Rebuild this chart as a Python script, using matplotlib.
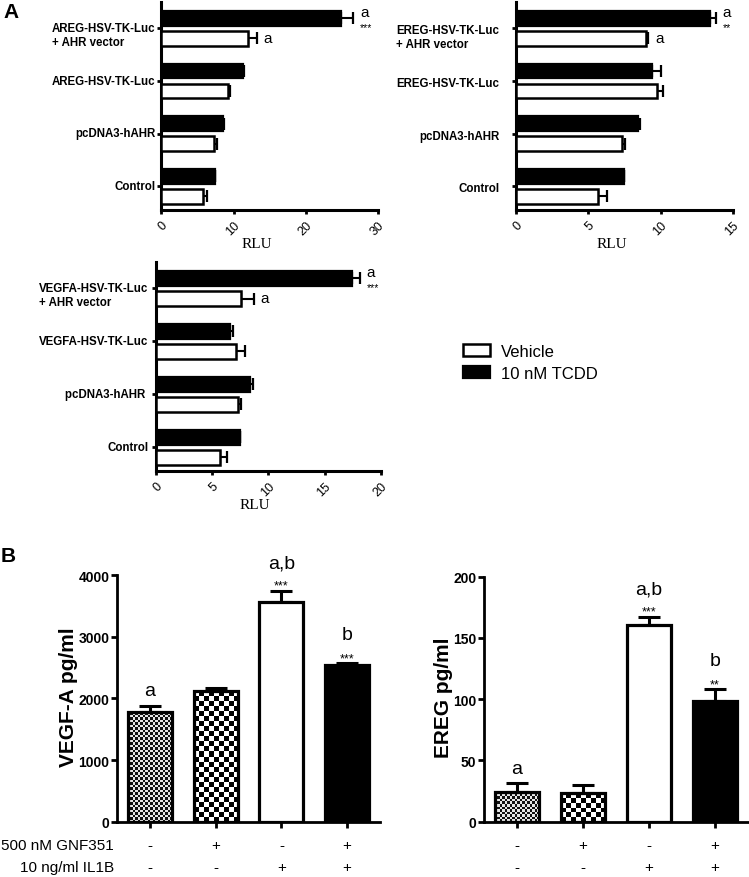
import numpy as np
import matplotlib
matplotlib.use("Agg")
import matplotlib.pyplot as plt
from matplotlib.colors import ListedColormap

# ---------- data ----------
areg_cats = ["Control", "pcDNA3-hAHR", "AREG-HSV-TK-Luc", "AREG-HSV-TK-Luc\n+ AHR vector"]
areg_veh = [5.8, 7.3, 9.2, 12.0]
areg_veh_err = [0.5, 0.4, 0.3, 1.2]
areg_tcdd = [7.45, 8.55, 11.3, 24.8]
areg_tcdd_err = [0.0, 0.1, 0.1, 1.7]

ereg_cats = ["Control", "pcDNA3-hAHR", "EREG-HSV-TK-Luc", "EREG-HSV-TK-Luc\n+ AHR vector"]
ereg_veh = [5.7, 7.3, 9.75, 9.0]
ereg_veh_err = [0.6, 0.25, 0.4, 0.15]
ereg_tcdd = [7.45, 8.4, 9.4, 13.4]
ereg_tcdd_err = [0.0, 0.2, 0.6, 0.4]

vegfa_cats = ["Control", "pcDNA3-hAHR ", "VEGFA-HSV-TK-Luc", "VEGFA-HSV-TK-Luc\n+ AHR vector"]
vegfa_veh = [5.7, 7.3, 7.1, 7.6]
vegfa_veh_err = [0.65, 0.3, 0.8, 1.1]
vegfa_tcdd = [7.5, 8.4, 6.6, 17.45]
vegfa_tcdd_err = [0.0, 0.25, 0.3, 0.65]

gnf351 = ["-", "+", "-", "+"]
il1b = ["-", "-", "+", "+"]
vegf_pg = [1773, 2113, 3556, 2545]
vegf_pg_err = [107, 59, 188, 27]
ereg_pg = [24.5, 23.4, 160.8, 98.8]
ereg_pg_err = [6.8, 6.6, 6.5, 9.5]

SANS = ["Liberation Sans", "DejaVu Sans"]
SERIF = ["Liberation Serif", "DejaVu Serif"]

W, H = 749, 878
fig = plt.figure(figsize=(W / 100, H / 100), dpi=100)


def px_axes(x0, y0, x1, y1):
    return fig.add_axes([x0 / W, 1 - y1 / H, (x1 - x0) / W, (y1 - y0) / H])


def style(ax, lw):
    for s in ("top", "right"):
        ax.spines[s].set_visible(False)
    for s in ("left", "bottom"):
        ax.spines[s].set_linewidth(lw)


# ---------- panel A: luciferase ----------
def luc_panel(ax, cats, veh, veh_err, tcdd, tcdd_err, xmax, step, pad, dy, stars):
    y = np.arange(len(cats))
    off, h = 0.19, 0.28
    ax.barh(y + off, tcdd, height=h, color="black", edgecolor="black",
            linewidth=1.6, zorder=3, label="10 nM TCDD")
    ax.barh(y - off, veh, height=h, color="white", edgecolor="black",
            linewidth=1.8, zorder=3, label="Vehicle")
    z = np.zeros(len(y))
    ax.errorbar(tcdd, y + off, xerr=[z, tcdd_err], fmt="none", ecolor="black",
                elinewidth=1.5, capsize=4, capthick=1.6, zorder=2)
    ax.errorbar(veh, y - off, xerr=[z, veh_err], fmt="none", ecolor="black",
                elinewidth=1.5, capsize=4, capthick=1.6, zorder=2)
    style(ax, 2.2)
    ax.set_xlim(0, xmax)
    ax.set_ylim(-0.45, 3.5)
    ticks = np.arange(0, xmax + 0.1, step)
    ax.set_xticks(ticks)
    ax.set_xticklabels([f"{t:g}" for t in ticks], rotation=45, ha="right", va="top",
                       rotation_mode="anchor", fontsize=9, family=SANS)
    ax.set_yticks(y)
    ax.set_yticklabels([])
    ax.tick_params(axis="both", length=3, width=2)
    for yi, c in zip(y, cats):
        ax.annotate(c, xy=(0, yi), xycoords=("axes fraction", "data"),
                    xytext=(-pad, dy), textcoords="offset points", ha="right",
                    va="top", multialignment="left", fontsize=8.3,
                    fontweight="bold", family=SANS)
    ax.text(0.44, -0.16, "RLU", transform=ax.transAxes, ha="center", va="center",
            fontsize=11, family=SERIF)
    top = len(cats) - 1
    xt = tcdd[top] + tcdd_err[top]
    ax.annotate("a", xy=(xt, top + off), xytext=(5, 4.5), textcoords="offset points",
                ha="left", va="center", fontsize=11, family=SANS)
    ax.annotate(stars, xy=(xt, top + off), xytext=(5, -6), textcoords="offset points",
                ha="left", va="center", fontsize=7.5, family=SANS)
    xv = veh[top] + veh_err[top]
    ax.annotate("a", xy=(xv, top - off), xytext=(5, 0.5), textcoords="offset points",
                ha="left", va="center", fontsize=11, family=SANS)


ax_areg = px_axes(161, 3, 378.5, 211)
ax_ereg = px_axes(516, 3, 733, 211)
ax_vegfa = px_axes(155.7, 263, 381, 472)

luc_panel(ax_areg, areg_cats, areg_veh, areg_veh_err, areg_tcdd, areg_tcdd_err,
          30, 10, 4, 4.6, "***")
luc_panel(ax_ereg, ereg_cats, ereg_veh, ereg_veh_err, ereg_tcdd, ereg_tcdd_err,
          15, 5, 12, 2.8, "**")
luc_panel(ax_vegfa, vegfa_cats, vegfa_veh, vegfa_veh_err, vegfa_tcdd, vegfa_tcdd_err,
          20, 5, 5, 4.6, "***")

handles, labels = ax_vegfa.get_legend_handles_labels()
fig.legend(handles[::-1], labels[::-1], loc="upper left", bbox_to_anchor=(448 / W, 1 - 330 / H),
           frameon=False, prop={"family": SANS, "size": 12}, handlelength=1.6,
           handleheight=0.7, handletextpad=0.7, labelspacing=0.4)


# ---------- panel B: ELISA ----------
def checker(ax, bar, sq, colors):
    x, y, w, h = bar.get_x(), bar.get_y(), bar.get_width(), bar.get_height()
    p0 = ax.transData.transform((x, y))
    p1 = ax.transData.transform((x + w, y + h))
    nx = max(1, int(round(abs(p1[0] - p0[0]) / sq)))
    ny = max(1, int(round(abs(p1[1] - p0[1]) / sq)))
    arr = np.indices((ny, nx)).sum(axis=0) % 2
    im = ax.imshow(arr, cmap=ListedColormap(colors), extent=(x, x + w, y, y + h),
                   origin="lower", interpolation="nearest", aspect="auto", zorder=1.5)
    im.set_clip_path(bar)


def elisa_panel(ax, vals, errs, ymax, ystep, ylabel, notes, lab_x):
    x = np.arange(len(vals))
    bars = ax.bar(x, vals, width=0.67, color=["none", "none", "white", "black"],
                  edgecolor="black", linewidth=2.3, zorder=3)
    ax.errorbar(x, vals, yerr=[np.zeros(len(x)), errs], fmt="none", ecolor="black",
                elinewidth=2.2, capsize=8, capthick=2.2, zorder=2)
    style(ax, 2.0)
    ax.set_xlim(-0.5, 3.5)
    ax.set_ylim(0, ymax)
    checker(ax, bars[0], 2.5, ["#111111", "#e6e6e6"])
    checker(ax, bars[1], 5, ["#000000", "#ffffff"])
    ax.set_xlim(-0.5, 3.5)
    ax.set_ylim(0, ymax)
    ax.set_xticks(x)
    ax.set_xticklabels([])
    ax.set_yticks(np.arange(0, ymax + 1, ystep))
    ax.set_yticklabels([f"{t:g}" for t in np.arange(0, ymax + 1, ystep)],
                       fontsize=10, fontweight="bold", family=SANS)
    ax.tick_params(axis="both", length=4, width=2, pad=1.5)
    ax.set_ylabel(ylabel, fontsize=15, fontweight="bold", family=SANS)
    ax.yaxis.set_label_coords(lab_x, 0.51)
    for xi, g, il in zip(x, gnf351, il1b):
        ax.annotate(g, xy=(xi, 0), xycoords=("data", "axes fraction"), xytext=(0, -16.8),
                    textcoords="offset points", ha="center", va="center",
                    fontsize=11, family=SANS)
        ax.annotate(il, xy=(xi, 0), xycoords=("data", "axes fraction"), xytext=(0, -32.6),
                    textcoords="offset points", ha="center", va="center",
                    fontsize=11, family=SANS)
    for i, letter, stars in notes:
        top = vals[i] + errs[i]
        if stars:
            ax.annotate(stars, xy=(i, top), xytext=(0, 1.5), textcoords="offset points",
                        ha="center", va="baseline", fontsize=9, family=SANS)
            ax.annotate(letter, xy=(i, top), xytext=(0, 17), textcoords="offset points",
                        ha="center", va="baseline", fontsize=14, family=SANS)
        else:
            ax.annotate(letter, xy=(i, top), xytext=(0, 7.5), textcoords="offset points",
                        ha="center", va="baseline", fontsize=14, family=SANS)


ax_vb = px_axes(117, 576, 380, 822.7)
ax_eb = px_axes(484, 577.7, 748, 822.7)
elisa_panel(ax_vb, vegf_pg, vegf_pg_err, 4000, 1000, "VEGF-A pg/ml",
            [(0, "a", ""), (2, "a,b", "***"), (3, "b", "***")], -0.148)
elisa_panel(ax_eb, ereg_pg, ereg_pg_err, 200, 50, "EREG pg/ml",
            [(0, "a", ""), (2, "a,b", "***"), (3, "b", "**")], -0.118)

for txt, off in (("500 nM GNF351", -16.8), ("10 ng/ml IL1B", -32.6)):
    ax_vb.annotate(txt, xy=(0, 0), xycoords="axes fraction", xytext=(-2, off),
                   textcoords="offset points", ha="right", va="center",
                   fontsize=11, family=SANS)

fig.text(3 / W, 1 - 13 / H, "A", fontsize=15, fontweight="bold", family=SANS,
         ha="left", va="center")
fig.text(1 / W, 1 - 557 / H, "B", fontsize=15, fontweight="bold", family=SANS,
         ha="left", va="center")

fig.savefig("out.png", dpi=100)
